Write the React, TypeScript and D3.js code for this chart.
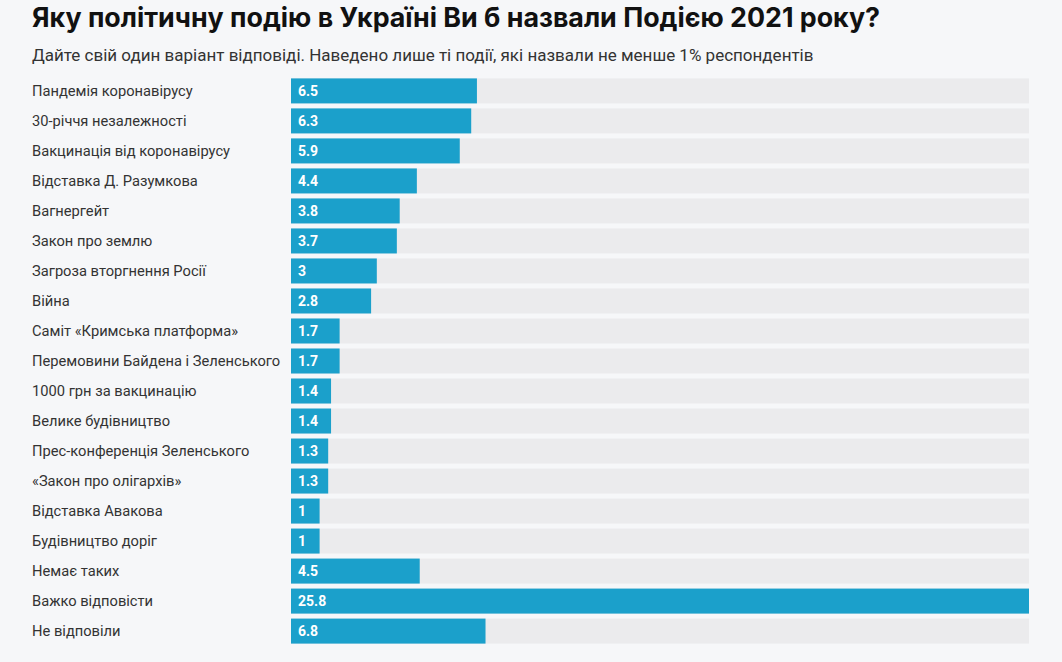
import React from "react";
import * as d3 from "d3";

const categories = [
  "Пандемія коронавірусу",
  "30-річчя незалежності",
  "Вакцинація від коронавірусу",
  "Відставка Д. Разумкова",
  "Вагнергейт",
  "Закон про землю",
  "Загроза вторгнення Росії",
  "Війна",
  "Саміт «Кримська платформа»",
  "Перемовини Байдена і Зеленського",
  "1000 грн за вакцинацію",
  "Велике будівництво",
  "Прес-конференція Зеленського",
  "«Закон про олігархів»",
  "Відставка Авакова",
  "Будівництво доріг",
  "Немає таких",
  "Важко відповісти",
  "Не відповіли",
];
const values = [6.5, 6.3, 5.9, 4.4, 3.8, 3.7, 3, 2.8, 1.7, 1.7, 1.4, 1.4, 1.3, 1.3, 1, 1, 4.5, 25.8, 6.8];

const title = "Яку політичну подію в Україні Ви б назвали Подією 2021 року?";
const subtitle = "Дайте свій один варіант відповіді. Наведено лише ті події, які назвали не менше 1% респондентів";

const W = 1062, H = 662;

export default function App() {
  const x = d3.scaleLinear().domain([0, d3.max(values)!]).range([291, 1029]);
  const y = d3.scaleBand().domain(categories).range([76, 646]).paddingInner(0.167).paddingOuter(0.08);
  const font = "Roboto, 'Liberation Sans', Arial, sans-serif";
  return (
    <svg width={W} height={H} style={{ position: "absolute", left: 0, top: 0, background: "#f6f7f9" }} fontFamily={font}>
      <rect width={W} height={H} fill="#f6f7f9" />
      <text x={32} y={27} fontSize={26.8} fontWeight={700} fontFamily="Inter, Roboto, sans-serif" fill="#111">{title}</text>
      <text x={32} y={61} fontSize={17} fill="#333">{subtitle}</text>
      {categories.map((c, i) => {
        const yy = y(c)!;
        const bh = y.bandwidth();
        return (
          <g key={c}>
            <text x={32} y={yy + bh / 2} dy="0.35em" fontSize={14.7} fill="#333">{c}</text>
            <rect x={x(0)} y={yy} width={x(d3.max(values)!) - x(0)} height={bh} fill="#ebebed" />
            <rect x={x(0)} y={yy} width={x(values[i]) - x(0)} height={bh} fill="#1ba0cb" />
            <text x={x(0) + 7} y={yy + bh / 2} dy="0.36em" fontSize={14} fontWeight={700} fill="#fff">{String(values[i])}</text>
          </g>
        );
      })}
    </svg>
  );
}
